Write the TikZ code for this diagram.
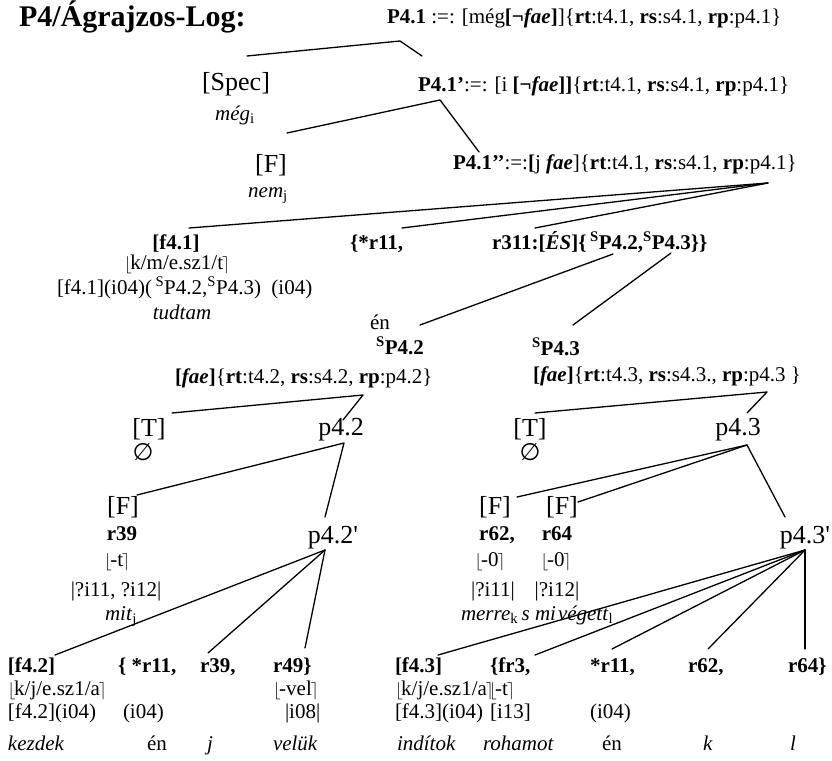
\documentclass[tikz,border=0pt]{standalone}
\usepackage{fontspec}
\setmainfont{Liberation Serif}
\newfontfamily\symfont{DejaVu Sans}
\newcommand\brk[1]{{\fontsize{19}{20}\selectfont$#1$}}
\newcommand\lfl{\brk{\lfloor}\kern-1.5pt}
\newcommand\rcl{\kern-1pt\brk{\rceil}}
\newcommand\supS{\textsuperscript{S}}
\begin{document}
\begin{tikzpicture}[x=1pt,y=-1pt,
  every node/.style={inner sep=0pt, outer sep=0pt, anchor=base},
  txt/.style={font=\fontsize{21}{24}\selectfont},
  cat/.style={font=\fontsize{26}{30}\selectfont},
  lbl/.style={font=\fontsize{21}{24}\selectfont\bfseries},
  nullset/.style={font=\fontsize{24}{26}\selectfont\symfont},
  branch/.style={line width=1.3pt, line cap=round, line join=round}]
\useasboundingbox (0,0) rectangle (832,760);

% ---------- title ----------
\node[anchor=base west, font=\fontsize{30}{34}\selectfont\bfseries] (title) at (19,27) {P4/Ágrajzos-Log:};

% ---------- P4.1 spine ----------
\node[txt, anchor=base west] (P41) at (387,24)
  {\textbf{P4.1} :=: [még\textbf{[¬\textit{fae}]}]\{\textbf{rt}:t4.1, \textbf{rs}:s4.1, \textbf{rp}:p4.1\}};
\node[cat] (spec) at (236,90) {[Spec]};
\node[txt] (meg) at (235,120) {\textit{még}\textsubscript{i}};
\node[txt, anchor=base west] (P41p) at (418,92)
  {\textbf{P4.1’}:=: [i \textbf{[¬\textit{fae}]]}\{\textbf{rt}:t4.1, \textbf{rs}:s4.1, \textbf{rp}:p4.1\}};
\node[cat] (Ftop) at (271,172) {[F]};
\node[txt] (nem) at (268,197) {\textit{nem}\textsubscript{j}};
\node[txt, anchor=base west] (P41pp) at (453,169)
  {\textbf{P4.1’’}:=:\textbf{[}j \textbf{\textit{fae}}]\{\textbf{rt}:t4.1, \textbf{rs}:s4.1, \textbf{rp}:p4.1\}};

% ---------- first-level daughters ----------
\node[lbl] (f41) at (176,249) {[f4.1]};
\node[lbl, anchor=base west] (r11) at (350,249) {\{*r11,};
\node[lbl, anchor=base west] (r311) at (492,249)
  {r311:[\textit{ÉS}]\{\,\supS P4.2,\supS P4.3\}\}};
\node[txt] (kmt) at (177,269) {\lfl k/m/e.sz1/t\rcl};
\node[txt, anchor=base west] (f41i) at (57,294) {[f4.1](i04)(\,\supS P4.2,\supS P4.3)~~(i04)};
\node[txt] (tudtam) at (182,319) {\textit{tudtam}};
\node[txt] (en1) at (380,329) {én};

% ---------- S P4.2 ----------
\node[lbl] (sP42) at (400,354) {\supS P4.2};
\node[txt, anchor=base west] (fae42) at (175,383)
  {\textbf{[\textit{fae}]}\{\textbf{rt}:t4.2, \textbf{rs}:s4.2, \textbf{rp}:p4.2\}};
\node[cat] (TL) at (149,436) {[T]};
\node[nullset] (nullL) at (143,460) {∅};
\node[cat] (p42) at (341,435) {p4.2};
\node[cat] (FL) at (123,514) {[F]};
\node[lbl] (r39a) at (122,540) {r39};
\node[txt] (tL) at (117,566) {\lfl -t\rcl};
\node[cat] (p42p) at (333,543) {p4.2\textquotesingle};
\node[txt] (i1112) at (116,596) {|?i11, ?i12|};
\node[txt] (mit) at (121,620) {\textit{mit}\textsubscript{j}};

\node[lbl, anchor=base west] (f42) at (8,672) {[f4.2]};
\node[lbl, anchor=base west] (r11c) at (118,672) {\{ *r11,};
\node[lbl, anchor=base west] (r39b) at (200,672) {r39,};
\node[lbl, anchor=base west] (r49) at (273,672) {r49\}};
\node[txt, anchor=base west] (kje) at (8,695) {\lfl k/j/e.sz1/a\rcl};
\node[txt, anchor=base west] (vel) at (273,695) {\lfl -vel\rcl};
\node[txt, anchor=base west] (f42i) at (8,718) {[f4.2](i04)};
\node[txt, anchor=base west] (i04a) at (123,718) {(i04)};
\node[txt, anchor=base west] (i08) at (285,718) {|i08|};
\node[txt, anchor=base west] (kezdek) at (8,750) {\textit{kezdek}};
\node[txt] (en2) at (157,750) {én};
\node[txt] (jj) at (210,750) {\textit{j}};
\node[txt, anchor=base west] (veluk) at (273,750) {\textit{velük}};

% ---------- S P4.3 ----------
\node[lbl, anchor=base west] (sP43) at (532,355) {\supS P4.3};
\node[txt, anchor=base west] (fae43) at (533,381)
  {\textbf{[\textit{fae}]}\{\textbf{rt}:t4.3, \textbf{rs}:s4.3., \textbf{rp}:p4.3 \}};
\node[cat] (TR) at (530,436) {[T]};
\node[nullset] (nullR) at (530,460) {∅};
\node[cat] (p43) at (738,435) {p4.3};
\node[cat] (FR1) at (495,514) {[F]};
\node[cat] (FR2) at (562,514) {[F]};
\node[lbl] (r62a) at (497,540) {r62,};
\node[lbl] (r64a) at (557,540) {r64};
\node[txt] (z1) at (490,566) {\lfl -0\rcl};
\node[txt] (z2) at (556,566) {\lfl -0\rcl};
\node[cat] (p43p) at (805,543) {p4.3\textquotesingle};
\node[txt] (q11) at (493,596) {|?i11|};
\node[txt] (q12) at (557,596) {|?i12|};
\node[txt, anchor=base west] (merre) at (461,620) {\textit{merre}\textsubscript{k}\,\textit{s}};
\node[txt, anchor=base west] (mive) at (535,620) {\textit{mi\kern2pt végett}\textsubscript{l}};

\node[lbl, anchor=base west] (f43) at (395,672) {[f4.3]};
\node[lbl, anchor=base west] (fr3) at (490,672) {\{fr3,};
\node[lbl, anchor=base west] (r11d) at (590,672) {*r11,};
\node[lbl, anchor=base west] (r62b) at (688,672) {r62,};
\node[lbl, anchor=base west] (r64b) at (788,672) {r64\}};
\node[txt, anchor=base west] (kje2) at (395,695) {\lfl k/j/e.sz1/a\rcl};
\node[txt, anchor=base west] (tR) at (489,695) {\lfl -t\rcl};
\node[txt, anchor=base west] (f43i) at (395,718) {[f4.3](i04)};
\node[txt, anchor=base west] (i13) at (490,718) {[i13]};
\node[txt, anchor=base west] (i04b) at (590,718) {(i04)};
\node[txt, anchor=base west] (indit) at (397,750) {\textit{indítok}};
\node[txt, anchor=base west] (rohamot) at (483,750) {\textit{rohamot}};
\node[txt] (en3) at (612,750) {én};
\node[txt] (kk) at (708,750) {\textit{k}};
\node[txt] (ll) at (793,750) {\textit{l}};

% ---------- branch points ----------
\coordinate (k41)   at (400,41);
\coordinate (k41p)  at (440,100);
\coordinate (k41pp) at (768,183);
\coordinate (kS2)   at (613,254);
\coordinate (kS3)   at (671,253);
\coordinate (k42)   at (363,395);
\coordinate (k42a)  at (344,443);
\coordinate (k42b)  at (325,550);
\coordinate (k43)   at (767,392);
\coordinate (k43a)  at (747,445);
\coordinate (k43b)  at (805,550);

% ---------- branch ends ----------
\coordinate (e-spec)  at (247,56);
\coordinate (e-P41p)  at (422,56);
\coordinate (e-Ftop)  at (287,133);
\coordinate (e-P41pp) at (479,152);
\coordinate (e-f41)   at (189,228);
\coordinate (e-r11)   at (402,228);
\coordinate (e-r311)  at (535,228);
\coordinate (e-sP42)  at (420,325);
\coordinate (e-sP43)  at (573,325);
\coordinate (e-TL)    at (172,413);
\coordinate (e-p42)   at (343,420);
\coordinate (e-FL)    at (137,495);
\coordinate (e-p42p)  at (325,517);
\coordinate (e-f42)   at (55,655);
\coordinate (e-r39b)  at (208,653);
\coordinate (e-r49)   at (305,648);
\coordinate (e-TR)    at (535,413);
\coordinate (e-p43)   at (747,413);
\coordinate (e-FR1)   at (517,497);
\coordinate (e-FR2)   at (578,502);
\coordinate (e-p43p)  at (785,517);
\coordinate (e-f43)   at (438,655);
\coordinate (e-fr3)   at (535,655);
\coordinate (e-r11d)  at (612,649);
\coordinate (e-r62b)  at (708,649);
\coordinate (e-r64b)  at (805,649);

% ---------- branches ----------
\draw[branch] (e-spec) -- (k41) -- (e-P41p);
\draw[branch] (e-Ftop) -- (k41p) -- (e-P41pp);
\draw[branch] (k41pp) -- (e-f41);
\draw[branch] (k41pp) -- (e-r11);
\draw[branch] (k41pp) -- (e-r311);
\draw[branch] (kS2) -- (e-sP42);
\draw[branch] (kS3) -- (e-sP43);
\draw[branch] (e-TL) -- (k42) -- (e-p42);
\draw[branch] (e-FL) -- (k42a) -- (e-p42p);
\foreach \e in {e-f42,e-r39b,e-r49} \draw[branch] (k42b) -- (\e);
\draw[branch] (e-TR) -- (k43) -- (e-p43);
\foreach \e in {e-FR1,e-FR2,e-p43p} \draw[branch] (k43a) -- (\e);
\foreach \e in {e-f43,e-fr3,e-r11d,e-r62b,e-r64b} \draw[branch] (k43b) -- (\e);
\end{tikzpicture}
\end{document}
